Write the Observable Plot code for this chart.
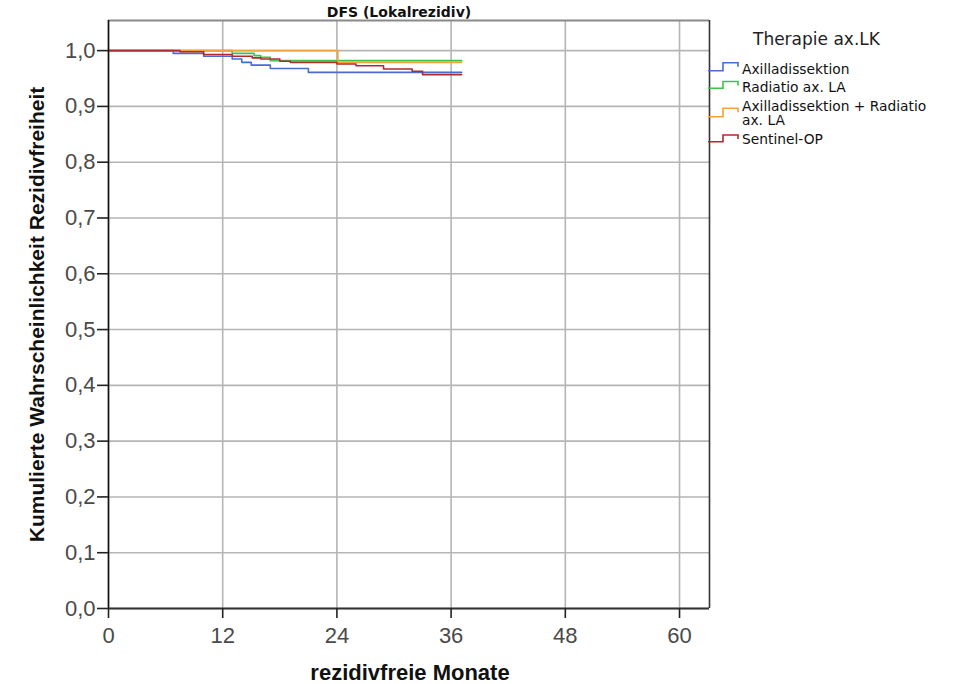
<!DOCTYPE html>
<html>
<head>
<meta charset="utf-8">
<script src="https://cdn.jsdelivr.net/npm/d3@7"></script>
<script src="https://cdn.jsdelivr.net/npm/@observablehq/plot@0.6"></script>
<style>
  html, body { margin: 0; padding: 0; background: #fff; }
  #chart svg { display: block; }
</style>
</head>
<body>
<div id="chart"></div>
<script>
// ---- data ----
const groups = ["Axilladissektion", "Radiatio ax. LA", "Axilladissektion + Radiatio ax. LA", "Sentinel-OP"];
const colors = ["#4a6bd0", "#3fc04f", "#f2a33a", "#b02a30"];

const axTimes = [0, 6.8, 10, 13, 14, 15, 17, 21, 37.1];
const axSurv  = [1, 0.995, 0.990, 0.985, 0.979, 0.974, 0.968, 0.961, 0.961];

const radTimes = [0, 13, 15.3, 16, 17, 37.1];
const radSurv  = [1, 0.995, 0.991, 0.988, 0.982, 0.982];

const axRadTimes = [0, 24.1, 37.1];
const axRadSurv  = [1, 0.979, 0.979];

const senTimes = [0, 7.5, 10, 13, 15.1, 16, 18, 19.1, 24, 26, 28.9, 31.9, 33, 37.1];
const senSurv  = [1, 0.998, 0.993, 0.990, 0.987, 0.985, 0.981, 0.979, 0.976, 0.973, 0.967, 0.963, 0.957, 0.957];

const xTicks = [0, 12, 24, 36, 48, 60];
const yTicks = [0, 0.1, 0.2, 0.3, 0.4, 0.5, 0.6, 0.7, 0.8, 0.9, 1.0];

const title = "DFS (Lokalrezidiv)";
const xLabel = "rezidivfreie Monate";
const yLabel = "Kumulierte Wahrscheinlichkeit Rezidivfreiheit";
const legendTitle = "Therapie ax.LK";
const legendLines = [["Axilladissektion"], ["Radiatio ax. LA"], ["Axilladissektion + Radiatio", "ax. LA"], ["Sentinel-OP"]];

// ---- build table ----
const series = [[axTimes, axSurv], [radTimes, radSurv], [axRadTimes, axRadSurv], [senTimes, senSurv]];
const rows = [];
series.forEach(([ts, ss], i) => ts.forEach((t, j) => rows.push({group: groups[i], t, s: ss[j]})));

const xMax = 63.15, yMax = 1.054;
const fmt = d => d.toFixed(1).replace(".", ",");

const chart = Plot.plot({
  width: 954,
  height: 684,
  marginLeft: 108,
  marginRight: 245,
  marginTop: 20,
  marginBottom: 76,
  style: {fontFamily: "'Liberation Sans', Arial, sans-serif", fontSize: "22px", background: "#fff"},
  x: {domain: [0, xMax]},
  y: {domain: [0, yMax]},
  color: {domain: groups, range: colors},
  marks: [
    Plot.gridX(xTicks, {stroke: "#b5b5b5", strokeOpacity: 1, strokeWidth: 1.6}),
    Plot.gridY(yTicks, {stroke: "#b5b5b5", strokeOpacity: 1, strokeWidth: 1.6}),
    Plot.ruleY([yMax], {stroke: "#8a8a8a", strokeWidth: 2}),
    Plot.ruleX([xMax], {stroke: "#333", strokeWidth: 1.6}),
    Plot.line(rows, {x: "t", y: "s", z: "group", stroke: "group", curve: "step-after", strokeWidth: 1.6}),
    Plot.ruleX([0], {stroke: "#111", strokeWidth: 1.6}),
    Plot.ruleY([0], {stroke: "#333", strokeWidth: 2}),
    Plot.axisX(xTicks, {tickSize: 10, tickPadding: 9, label: null, stroke: "#222", fill: "#4a4a4a", strokeWidth: 1.6, tickFormat: d => String(d)}),
    Plot.axisY(yTicks, {tickSize: 11, tickPadding: 2, label: null, stroke: "#222", fill: "#4a4a4a", strokeWidth: 1.6, tickFormat: fmt})
  ]
});

document.getElementById("chart").appendChild(chart);

// ---- annotations: title, axis labels, legend ----
const svg = d3.select(chart);
svg.append("text")
  .attr("x", 399).attr("y", 17)
  .attr("text-anchor", "middle")
  .attr("font-family", "'DejaVu Sans', sans-serif").attr("font-weight", "bold").attr("font-size", 14)
  .attr("fill", "#111")
  .text(title);

svg.append("text")
  .attr("x", 410).attr("y", 680)
  .attr("text-anchor", "middle")
  .attr("font-family", "'Liberation Sans', Arial, sans-serif").attr("font-weight", "bold").attr("font-size", 22)
  .attr("fill", "#111")
  .text(xLabel);

svg.append("text")
  .attr("transform", "translate(44,314.5) rotate(-90)")
  .attr("text-anchor", "middle")
  .attr("font-family", "'Liberation Sans', Arial, sans-serif").attr("font-weight", "bold").attr("font-size", 21)
  .attr("fill", "#111")
  .text(yLabel);

const lg = svg.append("g")
  .attr("font-family", "'DejaVu Sans', sans-serif")
  .attr("fill", "#111")
  .attr("text-anchor", "start");
lg.append("text").attr("x", 753).attr("y", 44.5).attr("font-size", 17).attr("fill", "#222").attr("text-anchor", "start").text(legendTitle);

const legendY = [{low: 70.7, high: 62.7, base: 74.3}, {low: 88.3, high: 81.5, base: 91.7}, {low: 116.7, high: 108.3, base: 110.5}, {low: 141.7, high: 135, base: 144}];
legendY.forEach((p, i) => {
  const path = d3.path();
  path.moveTo(708, p.low);
  path.lineTo(723, p.low);
  path.lineTo(723, p.high);
  path.lineTo(738, p.high);
  path.lineTo(738, p.high + 4);
  lg.append("path").attr("d", path.toString()).attr("fill", "none").attr("stroke", colors[i]).attr("stroke-width", 1.6);
  legendLines[i].forEach((line, k) => {
    lg.append("text").attr("x", 742).attr("y", p.base + k * 14.5).attr("font-size", 13.8).attr("text-anchor", "start").text(line);
  });
});
</script>
</body>
</html>
